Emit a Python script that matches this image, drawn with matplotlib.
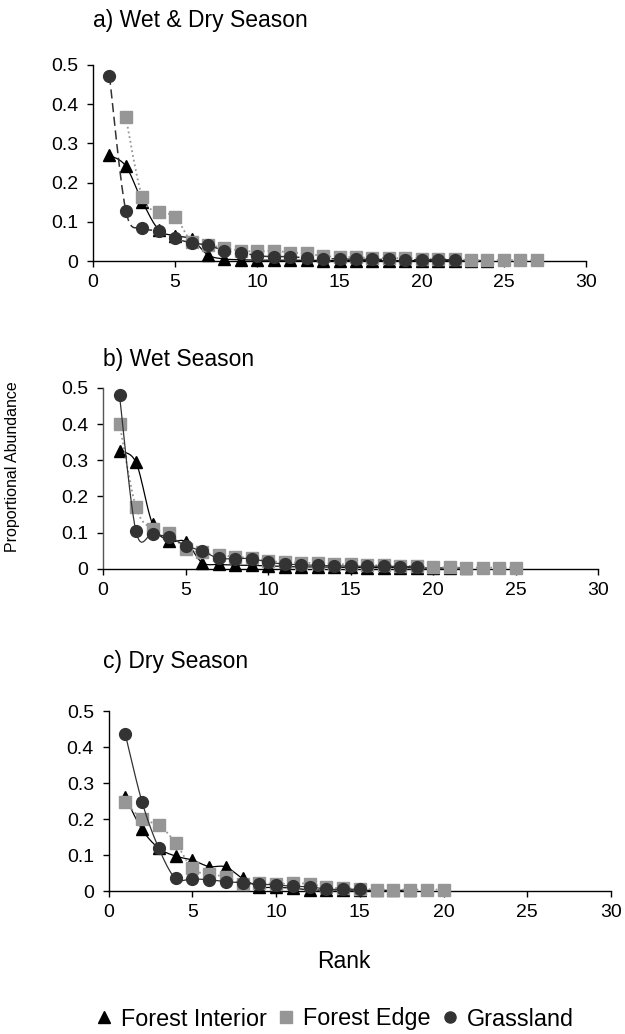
import numpy as np
import matplotlib.pyplot as plt
from matplotlib.lines import Line2D

plt.rcParams['font.family'] = ['Liberation Sans', 'DejaVu Sans']

# Rank-abundance values per habitat, one block per panel
a_interior = [0.270, 0.242, 0.152, 0.080, 0.065, 0.056, 0.016, 0.006, 0.004, 0.003,
              0.003, 0.003, 0.003, 0.002, 0.002, 0.002, 0.002, 0.002, 0.002, 0.002,
              0.002, 0.002, 0.002, 0.002]
a_edge_start = 2
a_edge = [0.366, 0.163, 0.126, 0.113, 0.050, 0.042, 0.034, 0.027, 0.025, 0.027,
          0.022, 0.020, 0.013, 0.012, 0.010, 0.009, 0.008, 0.008, 0.007, 0.006,
          0.006, 0.003, 0.003, 0.003, 0.003, 0.003]
a_grass = [0.472, 0.128, 0.085, 0.077, 0.058, 0.047, 0.041, 0.027, 0.022, 0.014,
           0.012, 0.012, 0.008, 0.007, 0.006, 0.005, 0.005, 0.005, 0.004, 0.004,
           0.004, 0.004]

b_interior = [0.325, 0.294, 0.124, 0.077, 0.075, 0.017, 0.012, 0.010, 0.009, 0.008,
              0.006, 0.005, 0.005, 0.004, 0.004, 0.003, 0.003, 0.003, 0.002, 0.002,
              0.002, 0.002]
b_edge = [0.401, 0.170, 0.110, 0.098, 0.055, 0.045, 0.038, 0.033, 0.030, 0.022,
          0.018, 0.017, 0.015, 0.013, 0.012, 0.010, 0.009, 0.008, 0.007, 0.004,
          0.004, 0.003, 0.003, 0.003, 0.003]
b_grass = [0.480, 0.103, 0.096, 0.087, 0.064, 0.049, 0.029, 0.028, 0.028, 0.018,
           0.013, 0.011, 0.009, 0.008, 0.007, 0.007, 0.007, 0.006, 0.006]

c_interior = [0.262, 0.171, 0.119, 0.097, 0.086, 0.068, 0.067, 0.035, 0.012, 0.010,
              0.008, 0.003, 0.003, 0.003, 0.002, 0.002, 0.002, 0.002]
c_edge = [0.248, 0.199, 0.183, 0.134, 0.063, 0.046, 0.040, 0.019, 0.022, 0.020,
          0.021, 0.020, 0.010, 0.008, 0.006, 0.004, 0.004, 0.004, 0.004, 0.004]
c_grass = [0.436, 0.248, 0.119, 0.035, 0.034, 0.031, 0.026, 0.023, 0.019, 0.017,
           0.013, 0.012, 0.005, 0.005, 0.005]

titles = ['a) Wet & Dry Season', 'b) Wet Season', 'c) Dry Season']
labels = ['Forest Interior', 'Forest Edge', 'Grassland']
x_ticks = [0, 5, 10, 15, 20, 25, 30]
y_ticks = [0, 0.1, 0.2, 0.3, 0.4, 0.5]
y_ticklabels = ['0', '0.1', '0.2', '0.3', '0.4', '0.5']

C_INT, C_EDGE, C_GRASS = 'black', '#969696', '#333333'
FS_TICK = 14
FS_TEXT = 16.5


def smooth(x, y, n=12):
    # Catmull-Rom style curve through the points (like spreadsheet smoothed lines)
    x = np.asarray(x, float)
    y = np.asarray(y, float)
    px = np.concatenate([[x[0]], x, [x[-1]]])
    py = np.concatenate([[y[0]], y, [y[-1]]])
    xs, ys = [], []
    t = np.linspace(0, 1, n, endpoint=False)
    for i in range(1, len(px) - 2):
        p0, p1, p2, p3 = [np.array([px[j], py[j]]) for j in (i - 1, i, i + 1, i + 2)]
        c1 = p1 + (p2 - p0) / 6
        c2 = p2 - (p3 - p1) / 6
        b = ((1 - t) ** 3)[:, None] * p1 + (3 * (1 - t) ** 2 * t)[:, None] * c1 \
            + (3 * (1 - t) * t ** 2)[:, None] * c2 + (t ** 3)[:, None] * p2
        xs.extend(b[:, 0])
        ys.extend(b[:, 1])
    xs.append(x[-1])
    ys.append(y[-1])
    return np.array(xs), np.array(ys)


def series(ax, vals, start, marker, color, ls, lw, z, dashes=None):
    x = np.arange(start, start + len(vals))
    sx, sy = smooth(x, vals)
    line, = ax.plot(sx, sy, color=color, lw=lw, ls=ls, zorder=z)
    if dashes:
        line.set_dashes(dashes)
    ax.plot(x, vals, ls='none', marker=marker, ms=8.5, color=color,
            markeredgecolor=color, zorder=z + 0.5, clip_on=False)


fig = plt.figure(figsize=(6.25, 10.34), dpi=100)
W, H = 625, 1034
boxes = [(93, 586, 64.7, 261.3), (103, 598, 388, 568.7), (108.5, 611, 711, 891)]
data = [(a_interior, a_edge, a_edge_start, a_grass),
        (b_interior, b_edge, 1, b_grass),
        (c_interior, c_edge, 1, c_grass)]
title_pos = [(93, 27), (103, 366), (103, 668)]

for k, ((l, r, t, b), (vi, ve, es, vg)) in enumerate(zip(boxes, data)):
    ax = fig.add_axes([l / W, 1 - b / H, (r - l) / W, (b - t) / H])
    series(ax, vi, 1, '^', C_INT, '-', 0.9, 2)
    series(ax, ve, es, 's', C_EDGE, ':', 1.3, 3)
    if k == 0:
        series(ax, vg, 1, 'o', C_GRASS, '--', 1.1, 4, dashes=(6, 3))
    else:
        series(ax, vg, 1, 'o', C_GRASS, '-', 0.9, 4)
    ax.set_xlim(0, 30)
    ax.set_ylim(0, 0.5)
    ax.set_xticks(x_ticks)
    ax.set_yticks(y_ticks)
    ax.set_yticklabels(y_ticklabels)
    for s in ('top', 'right'):
        ax.spines[s].set_visible(False)
    for s in ('left', 'bottom'):
        ax.spines[s].set_linewidth(1.0)
    if k == 1:
        ax.spines['left'].set_color('#555555')
    ax.tick_params(direction='out', length=4.5, width=1.0, labelsize=FS_TICK)
    ax.tick_params(axis='y', pad=6)
    ax.tick_params(axis='x', pad=5)
    tx, ty = title_pos[k]
    fig.text(tx / W, 1 - ty / H, titles[k], fontsize=FS_TEXT,
             ha='left', va='baseline')

fig.text(13 / W, 1 - 467 / H, 'Proportional Abundance', rotation=90,
         fontsize=11.5, ha='center', va='center')
fig.text(344 / W, 1 - 962 / H, 'Rank', fontsize=FS_TEXT, ha='center', va='center')

handles = [Line2D([], [], ls='none', marker='^', ms=9, color=C_INT),
           Line2D([], [], ls='none', marker='s', ms=8, color=C_EDGE),
           Line2D([], [], ls='none', marker='o', ms=8, color=C_GRASS)]
fig.legend(handles, labels, loc='center', ncol=3, frameon=False,
           bbox_to_anchor=(336 / W, 1 - 1019 / H), fontsize=16.8,
           handlelength=0.5, handletextpad=0.45, columnspacing=0.6,
           borderpad=0.0)

fig.savefig('out.png', dpi=100)
